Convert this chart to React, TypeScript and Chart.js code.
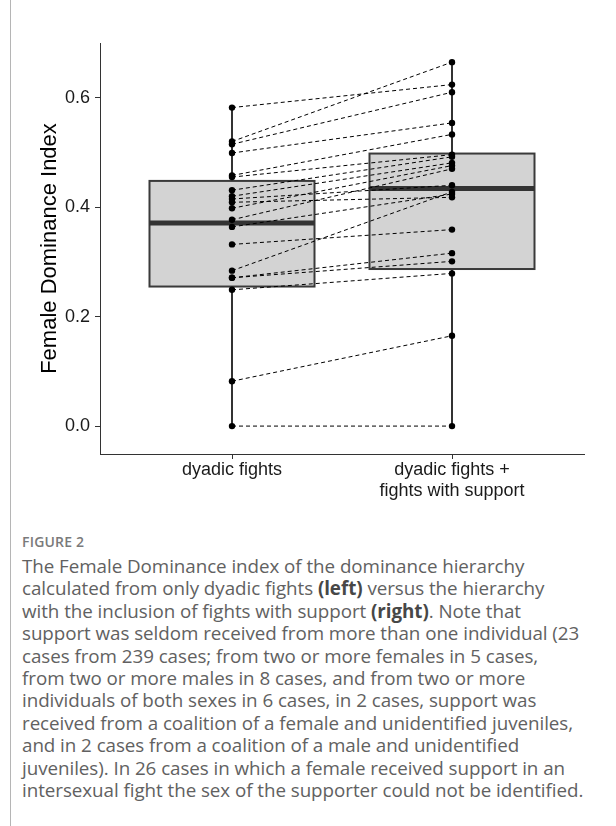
import React, { useEffect, useRef } from "react";
import { Chart, registerables } from "chart.js";
Chart.register(...registerables);

// ---- data ----
const categories: string[][] = [["dyadic fights"], ["dyadic fights +", "fights with support"]];
// paired values per individual (dyadic -> dyadic + support)
const dyadic = [0.582, 0.52, 0.515, 0.499, 0.458, 0.455, 0.431, 0.42, 0.415, 0.409, 0.398, 0.377, 0.364, 0.332, 0.284, 0.271, 0.271, 0.249, 0.082, 0.0];
const withSupport = [0.624, 0.665, 0.61, 0.554, 0.533, 0.496, 0.492, 0.481, 0.44, 0.418, 0.476, 0.47, 0.424, 0.359, 0.428, 0.316, 0.301, 0.279, 0.165, 0.0];
// box statistics
const boxQ1 = [0.255, 0.287];
const boxMedian = [0.371, 0.434];
const boxQ3 = [0.448, 0.498];
const whiskerLow = [0.0, 0.0];
const whiskerHigh = [0.582, 0.665];
const yTicks = [0, 0.2, 0.4, 0.6];

const BOX_HALF = 0.375;

const boxPlugin = {
  id: "boxes",
  beforeDatasetsDraw(chart: any) {
    const xs = chart.scales.x;
    const ys = chart.scales.y;
    const ctx = chart.ctx;
    ctx.save();
    for (let i = 0; i < categories.length; i++) {
      const c = xs.getPixelForValue(i + 1);
      const l = xs.getPixelForValue(i + 1 - BOX_HALF);
      const r = xs.getPixelForValue(i + 1 + BOX_HALF);
      const q1 = ys.getPixelForValue(boxQ1[i]);
      const q3 = ys.getPixelForValue(boxQ3[i]);
      const md = ys.getPixelForValue(boxMedian[i]);
      const lo = ys.getPixelForValue(whiskerLow[i]);
      const hi = ys.getPixelForValue(whiskerHigh[i]);
      ctx.strokeStyle = "#333333";
      ctx.lineWidth = 2;
      ctx.beginPath();
      ctx.moveTo(c, q3);
      ctx.lineTo(c, hi);
      ctx.moveTo(c, q1);
      ctx.lineTo(c, lo);
      ctx.stroke();
      ctx.fillStyle = "#d3d3d3";
      ctx.fillRect(l, q3, r - l, q1 - q3);
      ctx.strokeStyle = "#3a3a3a";
      ctx.lineWidth = 2;
      ctx.strokeRect(l, q3, r - l, q1 - q3);
      ctx.strokeStyle = "#333333";
      ctx.lineWidth = 5;
      ctx.beginPath();
      ctx.moveTo(l, md);
      ctx.lineTo(r, md);
      ctx.stroke();
    }
    ctx.restore();
  },
};

function ChartCanvas() {
  const ref = useRef<HTMLCanvasElement | null>(null);
  useEffect(() => {
    if (!ref.current) return;
    const points: any[] = [];
    dyadic.forEach((v) => points.push({ x: 1, y: v }));
    withSupport.forEach((v) => points.push({ x: 2, y: v }));
    const pairSets = dyadic.map((v, i) => ({
      type: "line",
      data: [
        { x: 1, y: v },
        { x: 2, y: withSupport[i] },
      ],
      borderColor: "#000000",
      borderWidth: 1,
      borderDash: [4, 3],
      pointRadius: 0,
      fill: false,
      order: 2,
    }));
    const chart = new Chart(ref.current, {
      type: "scatter",
      data: {
        datasets: [
          {
            type: "scatter",
            data: points,
            backgroundColor: "#000000",
            borderColor: "#000000",
            pointRadius: 3.2,
            borderWidth: 0,
            order: 1,
          } as any,
          ...(pairSets as any[]),
        ],
      },
      options: {
        animation: false,
        responsive: false,
        devicePixelRatio: 1,
        layout: { padding: { left: 0, right: 32, top: 43, bottom: 0 } },
        plugins: { legend: { display: false }, tooltip: { enabled: false } },
        scales: {
          x: {
            type: "linear",
            min: 0.4,
            max: 2.6,
            afterBuildTicks: (s: any) => {
              s.ticks = categories.map((_, i) => ({ value: i + 1 }));
            },
            afterFit: (s: any) => {
              s.height = 66;
            },
            ticks: {
              callback: (v: any) => categories[Math.round(Number(v)) - 1] || "",
              color: "#1a1a1a",
              font: { family: "'Liberation Sans', Arial, sans-serif", size: 18 },
              padding: 0,
              maxRotation: 0,
              autoSkip: false,
            },
            grid: { display: true, drawOnChartArea: false, tickLength: 5, color: "#333333", lineWidth: 1 },
            border: { display: true, color: "#333333", width: 1 },
          },
          y: {
            type: "linear",
            min: -0.051,
            max: 0.7,
            afterBuildTicks: (s: any) => {
              s.ticks = yTicks.map((v) => ({ value: v }));
            },
            afterFit: (s: any) => {
              s.width = 100;
            },
            ticks: {
              callback: (v: any) => Number(v).toFixed(1),
              color: "#1a1a1a",
              font: { family: "'Liberation Sans', Arial, sans-serif", size: 18 },
              padding: 5,
            },
            title: {
              display: true,
              text: "Female Dominance Index",
              color: "#000000",
              font: { family: "'Liberation Sans', Arial, sans-serif", size: 22 },
              padding: { top: 37, bottom: 0 },
            },
            grid: { display: true, drawOnChartArea: false, tickLength: 5, color: "#333333", lineWidth: 1 },
            border: { display: true, color: "#333333", width: 1 },
          },
        },
      } as any,
      plugins: [boxPlugin],
    });
    return () => chart.destroy();
  }, []);
  return <canvas ref={ref} width={616} height={520} style={{ display: "block" }} />;
}

export default function App() {
  const capStyle: React.CSSProperties = {
    position: "absolute",
    left: 22,
    top: 530,
    fontFamily: "'Open Sans', 'Noto Sans', sans-serif",
    color: "#616161",
    whiteSpace: "nowrap",
  };
  const b: React.CSSProperties = { fontWeight: 700, color: "#474747" };
  return (
    <div style={{ position: "fixed", left: 0, top: 0, width: 616, height: 826, background: "#fff", overflow: "hidden" }}>
      <div style={{ position: "absolute", left: 0, top: 0 }}>
        <ChartCanvas />
      </div>
      <div style={{ position: "absolute", left: 10, top: 0, width: 1, height: 826, background: "#b5b5b5" }} />
      <div style={capStyle}>
        <div style={{ fontSize: 14, fontWeight: 600, color: "#7a7a7a", lineHeight: "24px", letterSpacing: 0.2 }}>FIGURE 2</div>
        <div style={{ fontSize: 18.8, lineHeight: "22.4px", marginTop: 1, letterSpacing: -0.05 }}>
          The Female Dominance index of the dominance hierarchy<br />
          calculated from only dyadic fights <span style={b}>(left)</span> versus the hierarchy<br />
          with the inclusion of fights with support <span style={b}>(right)</span>. Note that<br />
          support was seldom received from more than one individual (23<br />
          cases from 239 cases; from two or more females in 5 cases,<br />
          from two or more males in 8 cases, and from two or more<br />
          individuals of both sexes in 6 cases, in 2 cases, support was<br />
          received from a coalition of a female and unidentified juveniles,<br />
          and in 2 cases from a coalition of a male and unidentified<br />
          juveniles). In 26 cases in which a female received support in an<br />
          intersexual fight the sex of the supporter could not be identified.
        </div>
      </div>
    </div>
  );
}
